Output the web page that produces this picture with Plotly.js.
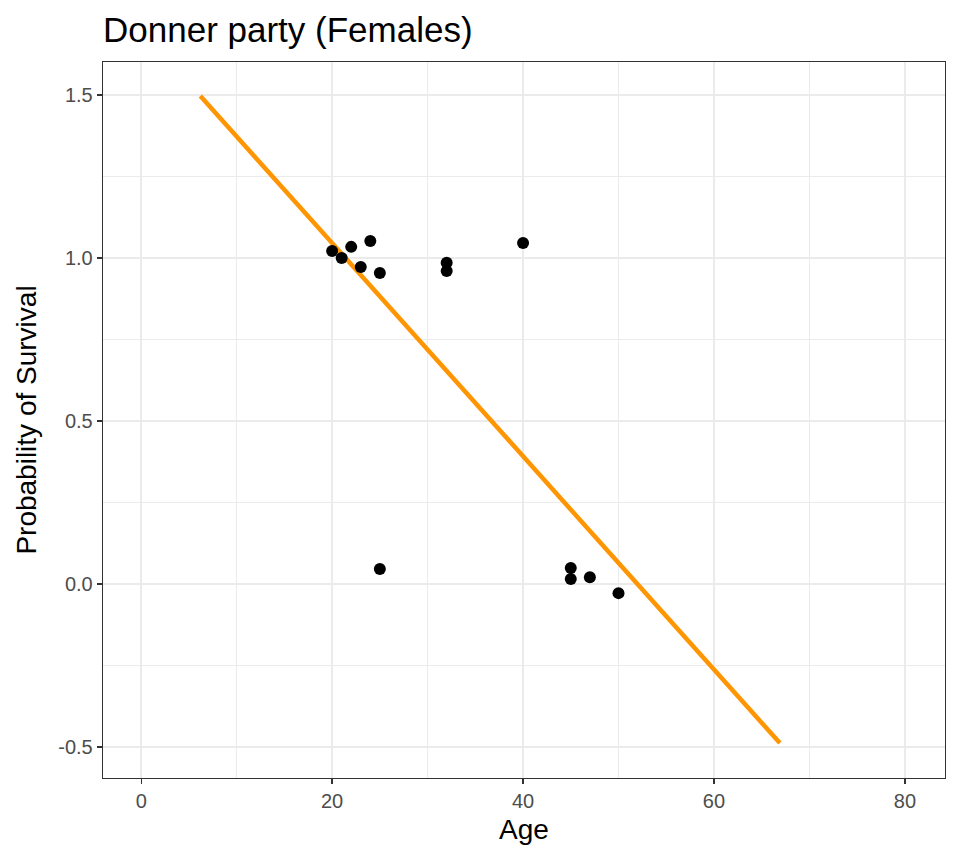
<!DOCTYPE html>
<html>
<head>
<meta charset="utf-8">
<script src="https://cdn.plot.ly/plotly-3.0.1.min.js"></script>
<style>html,body{margin:0;padding:0;background:#fff;}#chart{width:960px;height:864px;}</style>
</head>
<body>
<div id="chart"></div>
<script>
// Jittered observations (age, survival 0/1 with vertical jitter)
const ages = [20, 21, 22, 23, 24, 25, 32, 32, 40, 25, 45, 45, 47, 50];
const survival = [1.021, 1.0, 1.034, 0.972, 1.052, 0.954, 0.985, 0.960, 1.046, 0.046, 0.049, 0.015, 0.021, -0.028];
// Fitted linear model line endpoints
const fitAge = [6.2, 66.9];
const fitProb = [1.497, -0.488];

const xTicks = [0, 20, 40, 60, 80];
const yTicks = [-0.5, 0, 0.5, 1.0, 1.5];
const yTickText = ['-0.5', '0.0', '0.5', '1.0', '1.5'];

const font = 'Liberation Sans, Arial, Helvetica, sans-serif';

const traces = [
  {
    x: fitAge, y: fitProb, type: 'scatter', mode: 'lines',
    line: {color: '#FF9500', width: 4.5}, hoverinfo: 'skip'
  },
  {
    x: ages, y: survival, type: 'scatter', mode: 'markers',
    marker: {color: '#000000', size: 12}
  }
];

const layout = {
  width: 960, height: 864,
  paper_bgcolor: '#ffffff', plot_bgcolor: '#ffffff',
  showlegend: false,
  margin: {l: 103, r: 15, t: 62, b: 86},
  title: {
    text: 'Donner party (Females)',
    font: {family: font, size: 35, color: '#000000'},
    x: 0, xanchor: 'left', xref: 'paper',
    y: 1 - 30/864, yanchor: 'middle', yref: 'container'
  },
  xaxis: {
    range: [-4.0, 84.2],
    tickvals: xTicks, ticktext: xTicks.map(String),
    ticks: 'outside', ticklen: 5, tickwidth: 1.3, tickcolor: '#333333',
    tickfont: {family: font, size: 20, color: '#4d4d4d'},
    showgrid: true, gridcolor: '#ebebeb', gridwidth: 2.2,
    minor: {dtick: 10, tick0: 0, showgrid: true, gridcolor: '#ebebeb', gridwidth: 1.1, ticks: ''},
    zeroline: false,
    showline: true, mirror: true, linecolor: '#333333', linewidth: 1.3,
    title: {text: 'Age', font: {family: font, size: 28, color: '#000000'}, standoff: 8}
  },
  yaxis: {
    range: [-0.595, 1.601],
    tickvals: yTicks, ticktext: yTickText,
    ticks: 'outside', ticklen: 5, tickwidth: 1.3, tickcolor: '#333333',
    tickfont: {family: font, size: 20, color: '#4d4d4d'},
    showgrid: true, gridcolor: '#ebebeb', gridwidth: 2.2,
    minor: {dtick: 0.25, tick0: 0, showgrid: true, gridcolor: '#ebebeb', gridwidth: 1.1, ticks: ''},
    zeroline: false,
    showline: true, mirror: true, linecolor: '#333333', linewidth: 1.3,
    title: {text: 'Probability of Survival', font: {family: font, size: 28, color: '#000000'}, standoff: 13}
  }
};

Plotly.newPlot('chart', traces, layout, {displayModeBar: false, staticPlot: true});
</script>
</body>
</html>
